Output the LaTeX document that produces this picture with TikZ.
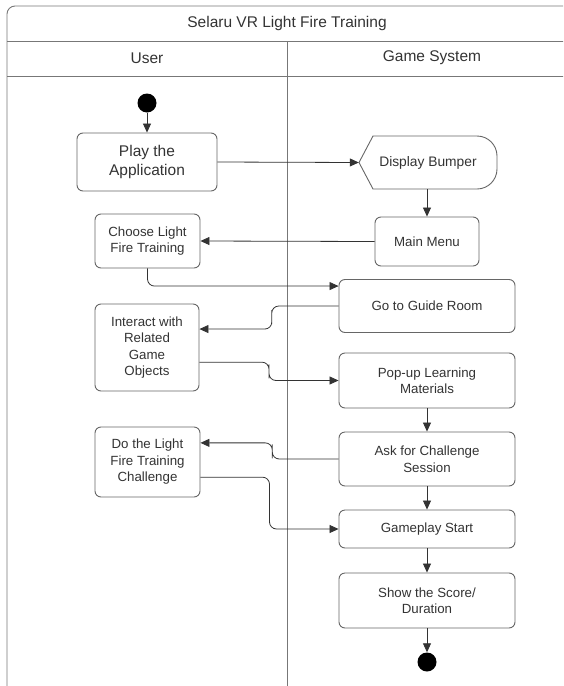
\documentclass[tikz,border=0pt]{standalone}
\usepackage{fontspec}
\setmainfont{Liberation Sans}
\usetikzlibrary{arrows.meta,calc}
\definecolor{lane}{HTML}{777777}
\definecolor{boxline}{HTML}{666666}
\definecolor{txt}{HTML}{333333}
\definecolor{arr}{HTML}{333333}
\begin{document}
\begin{tikzpicture}[x=1pt,y=-1pt,
  box/.style={draw=boxline, line width=0.9pt, rounded corners=6pt, align=center,
    font=\fontsize{13.3}{16.5}\selectfont, text=txt, inner sep=0pt},
  conn/.style={draw=arr, line width=0.8pt, -{Triangle[length=9pt,width=8pt]}, rounded corners=7pt},
  dotnode/.style={circle, fill=black, draw=none, inner sep=0pt, minimum size=19pt},
  head/.style={font=\fontsize{15.5}{18}\selectfont, text=txt}]
\useasboundingbox (0,0) rectangle (563,686);
% frame and lanes
\begin{scope}
\clip (0,0) rectangle (563,686);
\draw[lane, line width=0.9pt, rounded corners=8pt] (7,700) -- (7,6) -- (590,6) -- (590,700);
\draw[lane, line width=0.9pt] (7,41) -- (590,41);
\draw[lane, line width=0.9pt] (7,76) -- (590,76);
\draw[lane, line width=0.9pt] (287,41) -- (287,700);
\end{scope}
\node[head] (title) at (287,23) {Selaru VR Light Fire Training};
\node[head] (user) at (147,58) {User};
\node[head] (sys) at (432,58) {Game System};

% nodes
\node[dotnode] (start) at (147,103) {};
\node[box, minimum width=140, minimum height=58, font=\fontsize{15.5}{19}\selectfont] (play) at (147,162) {Play the\\Application};
\node[inner sep=0pt, minimum width=138, minimum height=53, font=\fontsize{13.8}{17}\selectfont, text=txt] (bumper) at (428,162.5) {Display Bumper};
\draw[boxline, line width=0.9pt] (373,136) -- (477,136) arc[start angle=-90, end angle=0, radius=20] -- (497,169) arc[start angle=0, end angle=90, radius=20] -- (373,189) -- (359,162.5) -- cycle;
\node[box, minimum width=104, minimum height=49] (menu) at (427,241.5) {Main Menu};
\node[box, minimum width=105, minimum height=54] (choose) at (147.5,241) {Choose Light\\Fire Training};
\node[box, minimum width=176, minimum height=53] (guide) at (427,306) {Go to Guide Room};
\node[box, minimum width=104, minimum height=87] (interact) at (147,347.5) {Interact with\\Related\\Game\\Objects};
\node[box, minimum width=176, minimum height=55] (popup) at (427,380.5) {Pop-up Learning\\Materials};
\node[box, minimum width=176, minimum height=54] (ask) at (427,459) {Ask for Challenge\\Session};
\node[box, minimum width=105, minimum height=70] (do) at (147.5,462) {Do the Light\\Fire Training\\Challenge};
\node[box, minimum width=176, minimum height=38] (game) at (427,529) {Gameplay Start};
\node[box, minimum width=176, minimum height=55] (show) at (427,600.5) {Show the Score/\\Duration};
\node[dotnode] (end) at (427,662) {};

% connectors
\draw[conn] (start) -- (play.north);
\draw[conn] (play.east) -- (bumper.west);
\draw[conn] (menu.north |- bumper.south) -- (menu.north);
\draw[conn] (menu.west) -- (choose.east);
\coordinate (g1) at ($(guide.north west)!0.13!(guide.south west)$);
\draw[conn] (choose.south) |- (g1);
\coordinate (i1) at ($(interact.north east)!0.29!(interact.south east)$);
\coordinate (i2) at ($(interact.north east)!0.667!(interact.south east)$);
\coordinate (d1) at ($(do.north east)!0.23!(do.south east)$);
\coordinate (d2) at ($(do.north east)!0.714!(do.south east)$);
\coordinate (g2) at ($(guide.north west)!0.5!(guide.south west)$);
\coordinate (m1) at ($(g2)!0.48!(i1)$);
\coordinate (m2) at ($(i2)!0.5!(popup.west)$);
\coordinate (m3) at ($(ask.west)!0.48!(d1)$);
\coordinate (m4) at ($(d2)!0.5!(game.west)$);
\draw[conn] (g2) -| (m1) |- (i1);
\draw[conn] (i2) -| (m2) |- (popup.west);
\draw[conn] (popup.south) -- (ask.north);
\draw[conn] (ask.west) -| (m3) |- (d1);
\draw[conn] (d2) -| (m4) |- (game.west);
\draw[conn] (ask.south) -- (game.north);
\draw[conn] (game.south) -- (show.north);
\draw[conn] (show.south) -- (end);
\end{tikzpicture}
\end{document}
